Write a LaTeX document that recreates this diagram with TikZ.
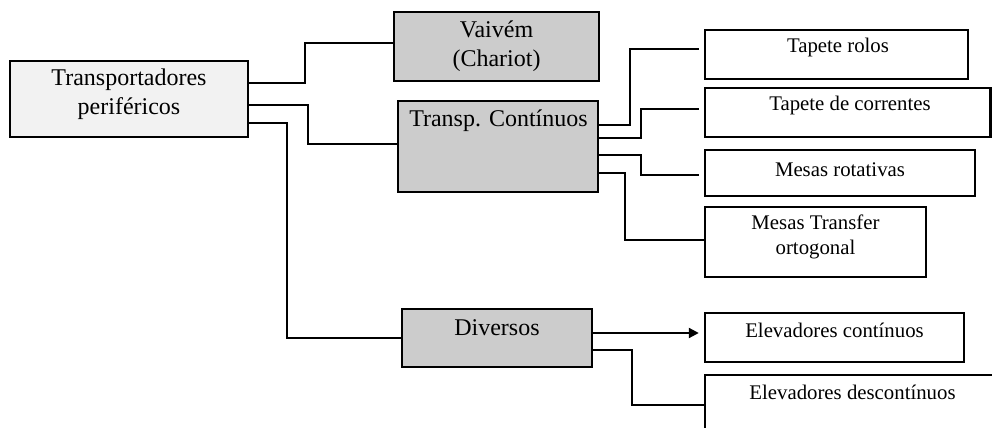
\documentclass[tikz,border=0pt]{standalone}
\usepackage{fontspec}
\setmainfont{Liberation Serif}
\usetikzlibrary{fit,arrows.meta}
\definecolor{paleGray}{RGB}{242,242,242}
\definecolor{midGray}{RGB}{204,204,204}
\begin{document}
\begin{tikzpicture}[x=0.5pt,y=-0.5pt,
  boxbase/.style={draw=black, line width=1.2pt, inner sep=0pt},
  rootbox/.style={boxbase, fill=paleGray},
  groupbox/.style={boxbase, fill=midGray},
  leafbox/.style={boxbase, fill=white},
  bigtxt/.style={font=\fontsize{12}{14.5}\selectfont, align=center, inner sep=0pt},
  smalltxt/.style={font=\fontsize{10.4}{12.5}\selectfont, align=center, inner sep=0pt},
  link/.style={line width=1.05pt},
  gaplink/.style={link, shorten >=2.5pt},
  arrowlink/.style={link, -{Triangle[length=5pt,width=5pt]}, shorten >=2.5pt}
]
\clip (0,0) rectangle (992,428);

% boxes
\node[rootbox,  fit={(10,61) (248,137)}]   (main) {};
\node[groupbox, fit={(394,12) (599,81)}]   (vai)  {};
\node[groupbox, fit={(398,101) (598,192)}] (tc)   {};
\node[groupbox, fit={(402,309) (592,367)}] (div)  {};
\node[leafbox,  fit={(705,30) (968,79)}]   (tr)   {};
\node[leafbox,  fit={(705,88) (990.5,137)}] (tdc) {};
\node[leafbox,  fit={(705,150) (975,196)}] (mr)   {};
\node[leafbox,  fit={(705,207) (926,277)}] (mt)   {};
\node[leafbox,  fit={(705,313) (964,362)}] (ec)   {};
\node[leafbox,  fit={(705,375) (1005,440)}] (ed)  {};

% texts
\node[bigtxt] (maintxt) at (129,94.5)  {Transportadores\\periféricos};
\node[bigtxt] (vaitxt)  at (496.5,46)  {Vaivém\\(Chariot)};
\node[bigtxt] (tctxt)   at (498.5,120.5) {Transp. Contínuos};
\node[bigtxt] (divtxt)  at (497,327.5) {Diversos};
\node[smalltxt] (trtxt)  at (838,47.5)  {Tapete rolos};
\node[smalltxt] (tdctxt) at (850,105.5) {Tapete de correntes};
\node[smalltxt] (mrtxt)  at (840,169.5) {Mesas rotativas};
\node[smalltxt] (mttxt)  at (815.5,237) {Mesas Transfer\\ortogonal};
\node[smalltxt] (ectxt)  at (834.5,330.5) {Elevadores contínuos};
\node[smalltxt] (edtxt)  at (852.5,392.5) {Elevadores descontínuos};

% connectors from the root
\draw[link] (main.east |- 0,83)  -| (305,43)  -- (vai.west |- 0,43);
\draw[link] (main.east |- 0,105) -| (308,144) -- (tc.west |- 0,144);
\draw[link] (main.east |- 0,123) -| (287,338) -- (div.west |- 0,338);

% connectors from the continuous conveyors
\draw[gaplink] (tc.east |- 0,125) -| (630,49)  -- (tr.west |- 0,49);
\draw[gaplink] (tc.east |- 0,138) -| (641,109) -- (tdc.west |- 0,109);
\draw[gaplink] (tc.east |- 0,155) -| (641,175) -- (mr.west |- 0,175);
\draw[link]    (tc.east |- 0,173) -| (625,240) -- (mt.west |- 0,240);

% connectors from the miscellaneous group
\draw[arrowlink] (div.east |- 0,333) -- (ec.west |- 0,333);
\draw[link] (div.east |- 0,350) -| (632,405) -- (ed.west |- 0,405);
\end{tikzpicture}
\end{document}
